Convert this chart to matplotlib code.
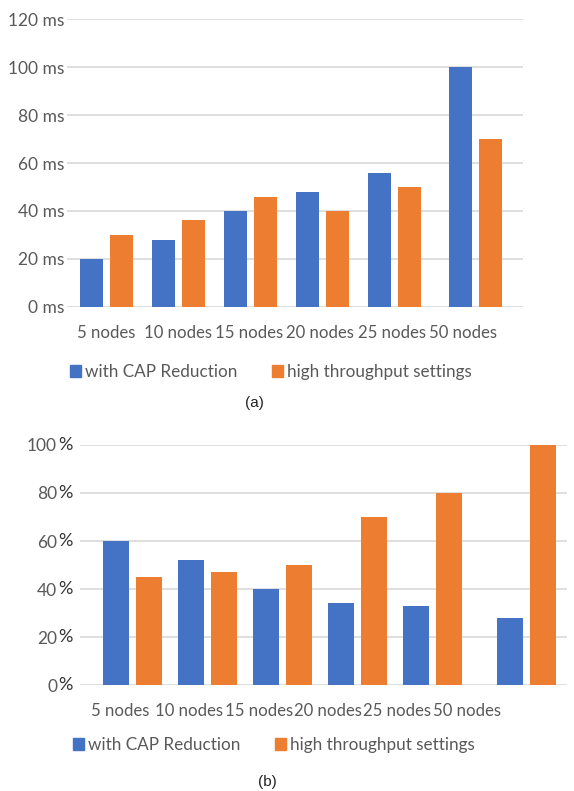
import matplotlib.pyplot as plt
from matplotlib.patches import Patch
import numpy as np

# data
categories = ['5 nodes', '10 nodes', '15 nodes', '20 nodes', '25 nodes', '50 nodes']
series_names = ['with CAP Reduction', 'high throughput settings']

latency_cap = [20, 28, 40, 48, 56, 100]
latency_high = [30, 36, 46, 40, 50, 70]
latency_ticks = [0, 20, 40, 60, 80, 100, 120]

share_cap = [60, 52, 40, 34, 33, 28]
share_high = [45, 47, 50, 70, 80, 100]
share_ticks = [0, 20, 40, 60, 80, 100]

BLUE = '#4472C4'
ORANGE = '#ED7D31'
GRID = '#d9d9d9'
TEXT = '#595959'

plt.rcParams['font.family'] = ['Lato', 'DejaVu Sans']

fig = plt.figure(figsize=(5.74, 7.91), dpi=100)


def bar_panel(ax, cap, high, ticks, last_shift, width, offset, xlim,
              label_start, label_step):
    x = np.arange(len(categories), dtype=float)
    x[-1] += last_shift  # last group sits a bit further right in the original
    ax.bar(x - offset, cap, width, color=BLUE, zorder=3)
    ax.bar(x + offset, high, width, color=ORANGE, zorder=3)
    ax.set_xlim(*xlim)
    ax.set_ylim(ticks[0], ticks[-1])
    ax.set_yticks(ticks)
    # category labels are evenly spaced and not quite under the bars
    ax.set_xticks(label_start + label_step * np.arange(len(categories)))
    ax.set_xticklabels(categories)
    ax.yaxis.grid(True, color=GRID, linewidth=1.2, zorder=0)
    for s in ax.spines.values():
        s.set_visible(False)
    ax.tick_params(length=0, colors=TEXT)
    ax.tick_params(axis='x', pad=13, labelsize=12.1)
    ax.tick_params(axis='y', labelsize=12.5)


ax1 = fig.add_axes([67 / 574, 1 - 306.7 / 791, 456 / 574, 287.4 / 791])
bar_panel(ax1, latency_cap, latency_high, latency_ticks,
          0.125, 0.32, 0.21, (-0.549, 5.785), 0.0, 0.99)
ax1.set_yticklabels([f'{t} ms' for t in latency_ticks])
ax1.tick_params(axis='y', pad=2)

ax2 = fig.add_axes([80 / 574, 1 - 685 / 791, 487 / 574, 240 / 791])
bar_panel(ax2, share_cap, share_high, share_ticks,
          0.246, 0.346, 0.22, (-0.699, 5.786), -0.166, 0.923)
ax2.set_yticklabels([str(t) for t in share_ticks])
ax2.tick_params(axis='y', pad=16.5)
for t in share_ticks:
    ax2.text(-7 / 487, t, '%', transform=ax2.get_yaxis_transform(),
             ha='right', va='center', fontsize=13, color='#333333')

handles = [Patch(color=BLUE), Patch(color=ORANGE)]
for xc, yc in ((271 / 574, 1 - 372 / 791), (274 / 574, 1 - 745 / 791)):
    fig.legend(handles, series_names, loc='center', bbox_to_anchor=(xc, yc),
               ncol=2, frameon=False, fontsize=12.3, handlelength=0.65,
               handleheight=0.65, handletextpad=0.25, columnspacing=2.0,
               labelcolor=TEXT)

fig.text(254 / 574, 1 - 403 / 791, '(a)', ha='center', va='center', fontsize=11,
         color='#222222', family='Liberation Sans')
fig.text(267 / 574, 1 - 782 / 791, '(b)', ha='center', va='center', fontsize=11,
         color='#222222', family='Liberation Sans')

fig.savefig('out.png', dpi=100)
